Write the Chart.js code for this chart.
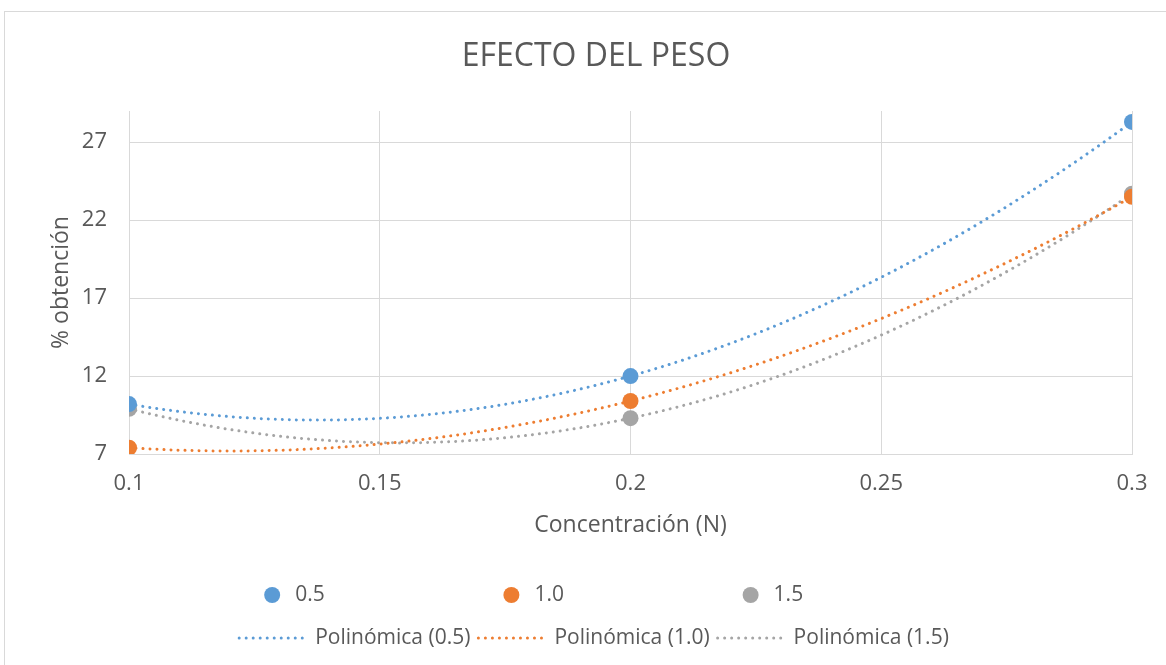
<!DOCTYPE html>
<html>
<head>
<meta charset="utf-8">
<script src="https://cdn.jsdelivr.net/npm/chart.js@4/dist/chart.umd.min.js"></script>
<style>
  html, body { margin: 0; padding: 0; background: #ffffff; }
  #wrap { width: 1166px; height: 665px; position: relative; }
</style>
</head>
<body>
<div id="wrap"><canvas id="c" width="1166" height="665"></canvas></div>
<script>
// Measured yield (%) per concentration, one array per weight
const concentracion = [0.1, 0.2, 0.3];
const peso05 = [10.2, 12.0, 28.3];
const peso10 = [7.4, 10.4, 23.5];
const peso15 = [9.9, 9.3, 23.7];
const seriesLabels = ['0.5', '1.0', '1.5'];
const seriesColors = ['#5B9BD5', '#ED7D31', '#A5A5A5'];
const xTicks = [0.1, 0.15, 0.2, 0.25, 0.3];
const yTicks = [7, 12, 17, 22, 27];

const FONT = '"Open Sans", "DejaVu Sans", sans-serif';
const TEXT = '#595959';
const GRID = '#D9D9D9';

// Least-squares polynomial fit (order 2), like a spreadsheet polynomial trendline
function polyfit(xs, ys, order) {
  const n = order + 1;
  const A = [];
  for (let i = 0; i < n; i++) {
    A.push(new Array(n + 1).fill(0));
    for (let j = 0; j < n; j++) {
      A[i][j] = xs.reduce((s, x) => s + Math.pow(x, i + j), 0);
    }
    A[i][n] = xs.reduce((s, x, k) => s + ys[k] * Math.pow(x, i), 0);
  }
  for (let c = 0; c < n; c++) {
    let p = c;
    for (let r = c + 1; r < n; r++) if (Math.abs(A[r][c]) > Math.abs(A[p][c])) p = r;
    [A[c], A[p]] = [A[p], A[c]];
    for (let r = 0; r < n; r++) {
      if (r === c) continue;
      const f = A[r][c] / A[c][c];
      for (let k = c; k <= n; k++) A[r][k] -= f * A[c][k];
    }
  }
  return A.map((row, i) => row[n] / row[i]);
}

function trendPoints(xs, ys) {
  const coef = polyfit(xs, ys, 2);
  const lo = Math.min(...xs), hi = Math.max(...xs);
  const pts = [];
  const steps = 120;
  for (let i = 0; i <= steps; i++) {
    const x = lo + (hi - lo) * i / steps;
    pts.push({ x, y: coef[0] + coef[1] * x + coef[2] * x * x });
  }
  return pts;
}

const allSeries = [peso05, peso10, peso15];

const datasets = [];
allSeries.forEach((vals, i) => {
  datasets.push({
    label: seriesLabels[i],
    data: concentracion.map((x, k) => ({ x, y: vals[k] })),
    showLine: false,
    pointRadius: 8,
    pointHoverRadius: 8,
    pointBackgroundColor: seriesColors[i],
    pointBorderColor: seriesColors[i],
    pointBorderWidth: 0,
    order: 1
  });
});
allSeries.forEach((vals, i) => {
  datasets.push({
    label: 'Polinómica (' + seriesLabels[i] + ')',
    data: trendPoints(concentracion, vals),
    showLine: true,
    pointRadius: 0,
    borderColor: seriesColors[i],
    borderWidth: 3,
    borderDash: [0.01, 7],
    borderCapStyle: 'round',
    tension: 0,
    order: 2
  });
});

// White background and thin outer frame
const framePlugin = {
  id: 'frame',
  beforeDraw(chart) {
    const ctx = chart.ctx;
    ctx.save();
    ctx.fillStyle = '#ffffff';
    ctx.fillRect(0, 0, chart.width, chart.height);
    ctx.strokeStyle = GRID;
    ctx.lineWidth = 1;
    ctx.strokeRect(4.5, 11.5, 1200, 700);
    ctx.restore();
  }
};

// Chart title and two-row legend
const headerLegendPlugin = {
  id: 'headerLegend',
  afterDraw(chart) {
    const ctx = chart.ctx;
    const cx = 596;
    ctx.save();
    ctx.fillStyle = TEXT;
    ctx.textAlign = 'center';
    ctx.textBaseline = 'middle';
    ctx.font = '32px ' + FONT;
    ctx.fillText('EFECTO DEL PESO', cx, 57);

    ctx.font = '21px ' + FONT;
    ctx.textAlign = 'left';
    const ds = chart.data.datasets;
    const trendLabels = ds.slice(3).map(d => d.label);
    const maxW = Math.max(...trendLabels.map(t => ctx.measureText(t).width));
    const colW = 70 + 8 + maxW + 6;
    const left = cx - colW * 1.5;
    for (let i = 0; i < 3; i++) {
      const x0 = left + colW * i;
      // marker row
      ctx.fillStyle = seriesColors[i];
      ctx.beginPath();
      ctx.arc(x0 + 35, 595, 8, 0, Math.PI * 2);
      ctx.fill();
      ctx.fillStyle = TEXT;
      ctx.fillText(ds[i].label, x0 + 58, 595);
      // trendline row
      ctx.strokeStyle = seriesColors[i];
      ctx.lineWidth = 3;
      ctx.lineCap = 'round';
      ctx.setLineDash([0.01, 7]);
      ctx.beginPath();
      ctx.moveTo(x0 + 2, 638);
      ctx.lineTo(x0 + 70, 638);
      ctx.stroke();
      ctx.setLineDash([]);
      ctx.fillStyle = TEXT;
      ctx.fillText(ds[i + 3].label, x0 + 78, 638);
    }
    ctx.restore();
  }
};

new Chart(document.getElementById('c'), {
  type: 'scatter',
  data: { datasets },
  options: {
    responsive: false,
    devicePixelRatio: 1,
    animation: false,
    layout: { padding: { top: 111, left: 20, right: 34, bottom: 121 } },
    plugins: {
      legend: { display: false },
      title: { display: false },
      tooltip: { enabled: false }
    },
    scales: {
      x: {
        type: 'linear',
        min: 0.1,
        max: 0.3,
        afterBuildTicks(scale) { scale.ticks = xTicks.map(v => ({ value: v })); },
        afterFit(scale) { scale.height = 90; },
        grid: { color: GRID, lineWidth: 1, drawTicks: false },
        border: { color: GRID, width: 1 },
        ticks: {
          color: TEXT,
          font: { family: FONT, size: 22 },
          padding: 17,
          maxRotation: 0,
          callback: v => String(Math.round(v * 100) / 100)
        },
        title: {
          display: true,
          text: 'Concentración (N)',
          color: TEXT,
          font: { family: FONT, size: 23 },
          padding: { top: 0, bottom: 5 }
        }
      },
      y: {
        type: 'linear',
        min: 7,
        max: 29,
        afterBuildTicks(scale) { scale.ticks = yTicks.map(v => ({ value: v })); },
        afterFit(scale) { scale.width = 109; },
        grid: { color: GRID, lineWidth: 1, drawTicks: false },
        border: { color: GRID, width: 1 },
        ticks: {
          color: TEXT,
          font: { family: FONT, size: 22 },
          padding: 22
        },
        title: {
          display: true,
          text: '% obtención',
          color: TEXT,
          font: { family: FONT, size: 23 },
          padding: { top: 28, bottom: 0 }
        }
      }
    }
  },
  plugins: [framePlugin, headerLegendPlugin]
});
</script>
</body>
</html>
